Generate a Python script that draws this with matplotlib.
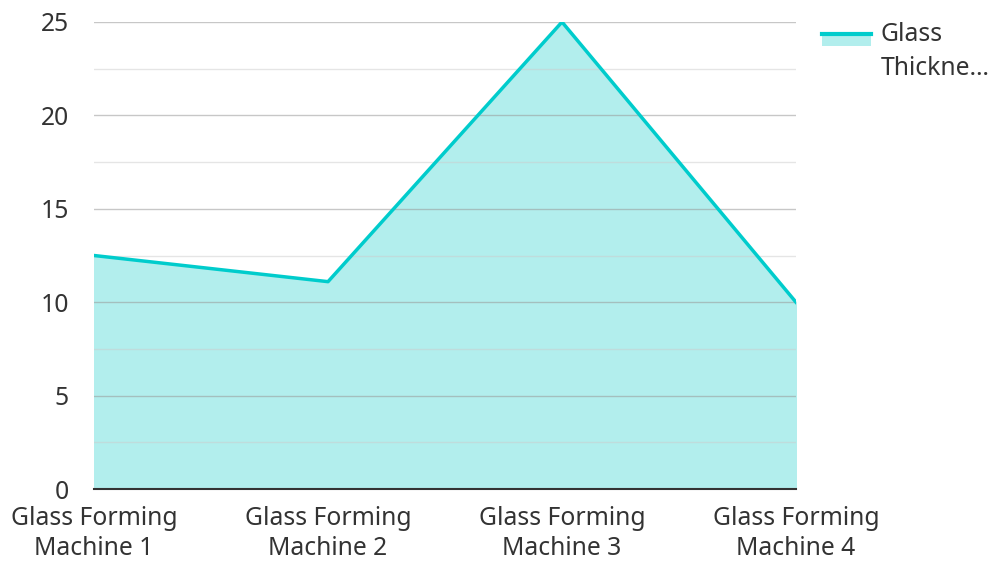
import matplotlib.pyplot as plt
from matplotlib.patches import Rectangle
from matplotlib.lines import Line2D
from matplotlib.legend_handler import HandlerBase

plt.rcParams['font.family'] = ['Noto Sans', 'DejaVu Sans']

machines = ['Glass Forming\nMachine 1', 'Glass Forming\nMachine 2',
            'Glass Forming\nMachine 3', 'Glass Forming\nMachine 4']
thickness = [12.5, 11.1, 25, 10]
series_label = 'Glass\nThickne…'

line_col = '#00cccc'
fill_col = '#b2eeed'


class AreaHandler(HandlerBase):
    # legend key: line on top, light fill below
    def create_artists(self, legend, orig_handle, xdescent, ydescent,
                       width, height, fontsize, trans):
        top = -ydescent + height * 1.56
        rect = Rectangle((-xdescent, top - height * 0.72), width, height * 0.72,
                         facecolor=fill_col, edgecolor='none', transform=trans)
        ln = Line2D([-xdescent, -xdescent + width], [top, top],
                    color=line_col, lw=3, transform=trans)
        return [rect, ln]


fig = plt.figure(figsize=(9.91, 5.61), dpi=100)
ax = fig.add_axes([0.0949, 0.1283, 0.7083, 0.8325])

x = list(range(len(machines)))
ax.fill_between(x, thickness, 0, color=fill_col, zorder=1)
line, = ax.plot(x, thickness, color=line_col, lw=2.5, zorder=3, label=series_label)

# grid on top of fill
for v in [0, 5, 10, 15, 20, 25]:
    ax.axhline(v, color='#999999', alpha=0.55, lw=1, zorder=2)
for v in [2.5, 7.5, 12.5, 17.5, 22.5]:
    ax.axhline(v, color='#cccccc', alpha=0.5, lw=1, zorder=2)

ax.set_xlim(0, 3)
ax.set_ylim(0, 25)
ax.set_yticks([0, 5, 10, 15, 20, 25])
ax.set_xticks(x)
ax.set_xticklabels(machines, linespacing=1.3)
ax.tick_params(axis='both', length=0, labelsize=17.8, colors='#333333')
ax.tick_params(axis='y', pad=18)
ax.tick_params(axis='x', pad=12)
for s in ['top', 'right', 'left']:
    ax.spines[s].set_visible(False)
ax.spines['bottom'].set_color('#333333')
ax.spines['bottom'].set_linewidth(1.5)
ax.spines['bottom'].set_zorder(4)

leg = ax.legend(handles=[line], labels=[series_label], handler_map={line: AreaHandler()},
                loc='upper left', bbox_to_anchor=(1.037, 1.0), frameon=False,
                borderpad=0, borderaxespad=0,
                fontsize=17.8, handlelength=2.0, handletextpad=0.36,
                labelcolor='#333333')
for t in leg.get_texts():
    t.set_linespacing(1.45)

fig.savefig('out.png', dpi=100)
